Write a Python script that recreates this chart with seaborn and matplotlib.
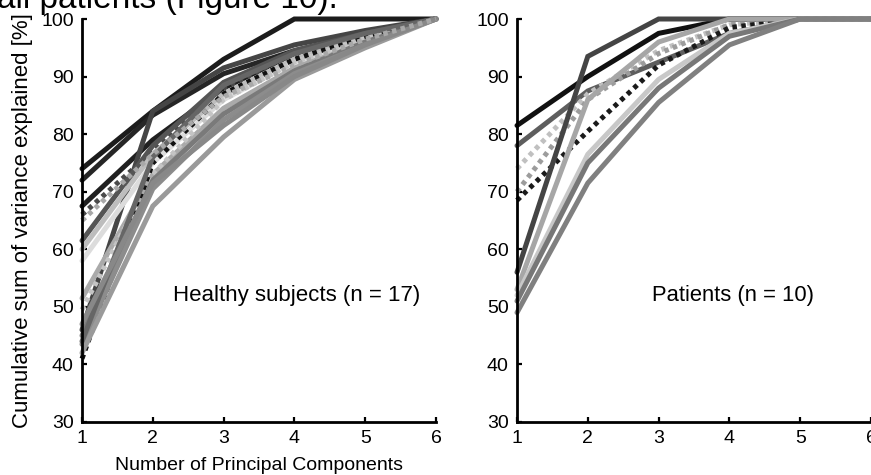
import matplotlib
matplotlib.use("Agg")
import matplotlib.pyplot as plt
import seaborn as sns
import pandas as pd

sns.set_theme(style="white")
plt.rcParams['font.family'] = ['Liberation Sans', 'DejaVu Sans']

components = [1, 2, 3, 4, 5, 6]
x_ticks = [1, 2, 3, 4, 5, 6]
y_ticks = [30, 40, 50, 60, 70, 80, 90, 100]

# Healthy subjects (n = 17): cumulative variance explained [%]
h01 = [74.0, 84.0, 93.0, 100.0, 100.0, 100.0]
h02 = [72.0, 83.3, 90.5, 94.5, 97.5, 100.0]
h03 = [67.5, 79.0, 88.0, 94.0, 97.5, 100.0]
h04 = [66.0, 77.0, 88.0, 94.0, 97.0, 100.0]
h05 = [46.0, 84.0, 91.5, 95.5, 98.0, 100.0]
h06 = [61.5, 78.0, 89.0, 94.5, 97.5, 100.0]
h07 = [60.0, 76.5, 87.0, 93.0, 97.0, 100.0]
h08 = [58.0, 75.0, 86.0, 92.5, 96.5, 100.0]
h09 = [51.5, 73.0, 84.5, 91.5, 96.0, 100.0]
h10 = [49.5, 73.0, 86.0, 92.5, 96.5, 100.0]
h11 = [41.0, 75.0, 87.0, 93.0, 97.0, 100.0]
h12 = [45.0, 72.0, 83.5, 91.0, 96.0, 100.0]
h13 = [43.5, 70.5, 82.5, 90.5, 95.5, 100.0]
h14 = [42.0, 67.5, 79.5, 89.5, 95.0, 100.0]
h15 = [44.0, 76.0, 88.5, 94.0, 97.5, 100.0]
h16 = [47.0, 71.5, 81.5, 90.0, 95.5, 100.0]
h17 = [65.0, 76.5, 86.5, 92.0, 96.5, 100.0]
healthy = [h01, h02, h03, h04, h05, h06, h07, h08, h09, h10,
           h11, h12, h13, h14, h15, h16, h17]

# Patients (n = 10)
p01 = [81.5, 90.0, 97.5, 100.0, 100.0, 100.0]
p02 = [78.0, 87.5, 92.5, 97.5, 100.0, 100.0]
p03 = [74.0, 87.0, 94.5, 99.0, 100.0, 100.0]
p04 = [70.0, 86.0, 94.0, 99.0, 100.0, 100.0]
p05 = [68.5, 80.5, 92.0, 98.5, 100.0, 100.0]
p06 = [56.0, 93.5, 100.0, 100.0, 100.0, 100.0]
p07 = [53.0, 86.0, 96.0, 100.0, 100.0, 100.0]
p08 = [52.0, 76.5, 89.5, 97.5, 100.0, 100.0]
p09 = [51.0, 75.0, 88.0, 97.0, 100.0, 100.0]
p10 = [49.0, 71.5, 85.5, 95.5, 100.0, 100.0]
patients = [p01, p02, p03, p04, p05, p06, p07, p08, p09, p10]

# styles (color, dotted?)
healthy_styles = [
    ("#1c1c1c", False), ("#262626", False), ("#202020", False), ("#4a4a4a", True),
    ("#454545", False), ("#555555", False), ("#bdbdbd", False), ("#dcdcdc", False),
    ("#aaaaaa", False), ("#c4c4c4", True), ("#111111", True), ("#7a7a7a", False),
    ("#8c8c8c", False), ("#9a9a9a", False), ("#666666", False), ("#888888", False),
    ("#a8a8a8", True),
]
patient_styles = [
    ("#111111", False), ("#5e5e5e", False), ("#c0c0c0", True), ("#9c9c9c", True),
    ("#1a1a1a", True), ("#444444", False), ("#a6a6a6", False), ("#c8c8c8", False),
    ("#777777", False), ("#808080", False),
]

fig = plt.figure(figsize=(8.71, 4.75), dpi=100)
ax1 = fig.add_axes([82 / 871, 1 - 422 / 475, 354 / 871, 403 / 475])
ax2 = fig.add_axes([517 / 871, 1 - 422 / 475, 354 / 871, 403 / 475])


def draw(ax, series, styles):
    for vals, (col, dotted) in zip(series, styles):
        df = pd.DataFrame({"pc": components, "var": vals})
        sns.lineplot(data=df, x="pc", y="var", ax=ax, color=col,
                     linewidth=3.6, clip_on=False)
        ln = ax.lines[-1]
        if dotted:
            ln.set_linestyle((0, (0.9, 0.9)))
            ln.set_dash_capstyle("butt")
        ln.set_solid_joinstyle("miter")


draw(ax1, healthy, healthy_styles)
draw(ax2, patients, patient_styles)

for ax in (ax1, ax2):
    ax.set_xlim(1, 6)
    ax.set_ylim(30, 100)
    ax.set_xticks(x_ticks)
    ax.set_yticks(y_ticks)
    ax.set_xticklabels([str(t) for t in x_ticks])
    ax.set_yticklabels([str(t) for t in y_ticks])
    for s in ("top", "right"):
        ax.spines[s].set_visible(False)
    for s in ("left", "bottom"):
        ax.spines[s].set_color("black")
        ax.spines[s].set_linewidth(2.0)
        ax.spines[s].set_zorder(5)
    ax.tick_params(axis="both", direction="in", length=3.5, width=1.6,
                   colors="black", labelsize=14, pad=6,
                   left=True, bottom=True)
    ax.set_facecolor("white")
    ax.set_xlabel("")
    ax.set_ylabel("")

ax1.set_ylabel("Cumulative sum of variance explained [%]", fontsize=16,
               labelpad=6, color="black")
ax1.set_xlabel("Number of Principal Components", fontsize=14, labelpad=7,
               color="black")

ax1.text(2.285, 52, "Healthy subjects (n = 17)", fontsize=16, ha="left",
         va="center", color="black")
ax2.text(2.91, 52, "Patients (n = 10)", fontsize=15.8, ha="left",
         va="center", color="black")

fig.text(-0.004, 0.983, "all patients (Figure 10).", fontsize=24,
         ha="left", va="baseline", color="black")

fig.savefig("out.png", dpi=100, facecolor="white")
